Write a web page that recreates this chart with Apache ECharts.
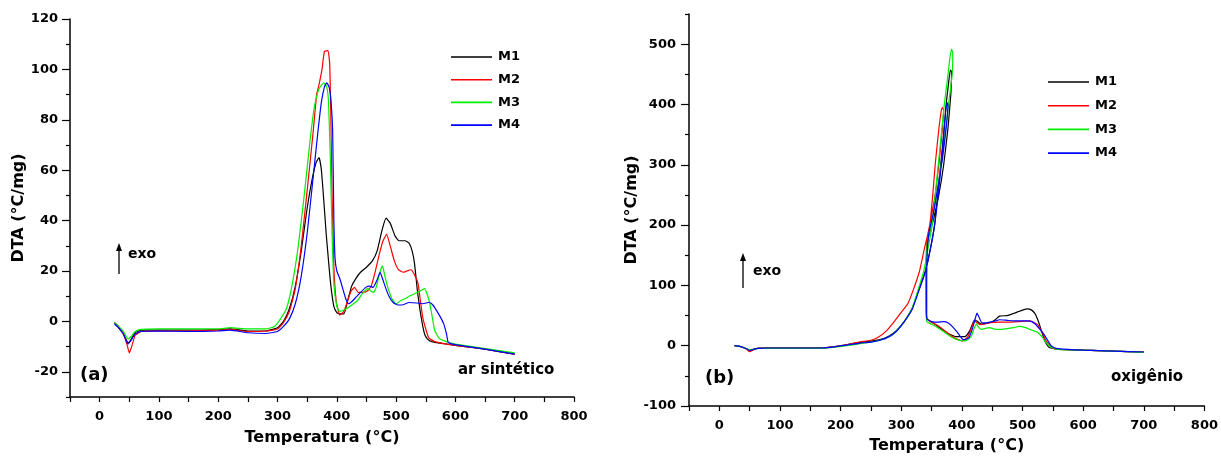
<!DOCTYPE html>
<html>
<head>
<meta charset="utf-8">
<script src="https://cdn.jsdelivr.net/npm/echarts@6/dist/echarts.min.js"></script>
<style>html,body{margin:0;padding:0;background:#fff}#c{width:1221px;height:459px}</style>
</head>
<body>
<div id="c"></div>
<script>
// ---------- data ----------
const seriesNames = ['M1', 'M2', 'M3', 'M4'];
const seriesColors = ['#000000', '#ff0000', '#00ee00', '#0000ff'];

// (a) ar sintético : [temperature °C, DTA °C/mg]
const airM1 = [[25,-0.5],[30,-2],[40,-5],[48,-8.5],[52,-7.5],[60,-4.5],[70,-3.5],[100,-3.5],[150,-3.5],[200,-3.3],[220,-3],[250,-3.8],[280,-3.8],[300,-2.5],[310,0],[320,5],[330,14],[340,28],[350,45],[358,56],[365,63],[370,65],[374,60],[378,48],[382,35],[386,24],[390,14],[395,6],[400,3.5],[405,3],[412,3],[418,8],[425,14],[432,17],[440,19.5],[450,21.5],[460,24],[468,28],[476,36],[483,41],[490,39],[498,34],[505,32],[515,32],[522,31],[527,28],[531,23],[536,12],[542,2],[548,-5],[553,-7],[560,-8],[580,-8.8],[600,-9.5],[650,-11],[700,-13]];
const airM2 = [[25,-0.5],[30,-1.5],[40,-5],[46,-9],[50,-12.5],[54,-10],[60,-5.5],[70,-4],[100,-3.8],[150,-3.8],[200,-3.5],[220,-3.2],[250,-4],[280,-3.8],[300,-3],[310,-0.5],[320,4],[330,13],[340,30],[350,52],[360,75],[366,90],[370,94],[375,100],[379,107],[385,107.5],[388,102],[390,80],[392,50],[395,22],[399,8],[405,2.5],[412,4],[418,8],[424,12],[430,13.5],[436,11.5],[442,11.5],[451,12],[458,14],[465,20],[472,27],[478,32],[484,34.5],[490,30],[497,24],[504,20.5],[512,19.5],[518,20],[525,20.5],[531,18.5],[537,15],[541,8],[545,1.5],[550,-3],[555,-6.5],[565,-8],[600,-9.5],[650,-11],[700,-13]];
const airM3 = [[25,-0.5],[30,-1.5],[40,-4],[48,-7],[53,-6],[60,-4],[70,-3.2],[100,-3],[150,-3],[200,-3],[220,-2.5],[250,-3],[280,-3],[295,-2],[305,1],[315,5],[325,15],[335,30],[345,50],[355,72],[362,85],[368,91],[373,93.5],[378,94.7],[383,93],[386,87],[389,65],[392,35],[395,15],[400,6],[405,4],[412,4.5],[420,5.6],[428,7],[435,8.3],[443,11],[452,13],[458,12],[462,11.5],[467,14],[472,19],[477,22],[481,18],[486,13.5],[493,9],[500,7],[508,8.3],[515,9],[522,10],[531,11],[540,12],[548,13],[552,11],[556,8],[560,3],[565,-3.5],[573,-6.8],[588,-8.3],[600,-9],[650,-10.8],[700,-12.5]];
const airM4 = [[25,-1],[30,-2],[40,-5],[48,-9],[53,-7.5],[60,-5],[70,-4],[100,-3.8],[150,-4],[200,-3.8],[220,-3.5],[250,-4.5],[280,-4.8],[300,-4],[310,-2],[320,1],[330,7],[340,18],[350,35],[360,57],[368,75],[374,87],[379,93],[383,94.7],[387,93],[390,88],[393,75],[395,40],[397,25],[400,20],[405,17],[410,13],[415,9],[420,7],[426,8],[432,9.5],[440,11.5],[449,13.5],[455,14],[461,13.5],[467,16],[473,19.5],[477,17],[482,13.5],[488,10],[495,7.5],[503,6.5],[510,6.5],[522,7.5],[535,7.3],[545,7],[556,7.6],[562,6.5],[568,4.4],[574,2],[580,-0.8],[585,-5],[588,-8.3],[600,-9.2],[650,-11],[700,-13]];

// (b) oxigênio
const oxyM1 = [[25,0],[35,-1.5],[45,-5],[50,-8],[56,-6],[65,-4],[80,-3.5],[120,-3.5],[170,-3.5],[190,-1.5],[210,1.5],[230,5],[250,7.5],[265,10],[280,16],[292,25],[305,40],[318,62],[328,90],[340,125],[348,160],[355,200],[360,250],[365,300],[370,350],[374,400],[378,435],[381,457],[383,455],[382,420],[377,360],[370,300],[362,250],[352,205],[345,180],[342,150],[341,90],[342,45],[347,41],[355,36],[368,26],[380,19],[391,15],[405,15],[413,25],[421,43],[426,40],[432,36],[440,37],[449,39],[455,43],[462,49],[475,50],[484,53],[492,56],[500,59],[508,61],[515,59],[520,54],[524,46],[528,35],[532,22],[536,10],[540,2],[544,-3],[552,-5],[561,-6],[600,-7.5],[650,-9],[700,-10.5]];
const oxyM2 = [[25,0],[35,-1.5],[45,-6],[50,-10],[56,-7],[65,-4],[80,-3.5],[120,-3.5],[170,-3.5],[190,-1.5],[210,1.5],[230,6],[250,9],[262,14],[276,25],[290,42],[302,58],[311,70],[319,90],[330,123],[338,160],[347,200],[352,250],[356,300],[361,350],[366,390],[368,395],[370,390],[367,350],[362,300],[356,250],[348,205],[343,180],[341,130],[341,75],[342,45],[348,40],[357,35],[365,30],[380,18],[392,11],[401,8],[410,15],[416,30],[421,41],[425,38],[430,35],[438,36],[446,38],[462,39],[478,39],[495,40],[512,41],[518,39],[525,35],[529,28],[533,21],[537,12],[541,5],[546,-1],[552,-5],[565,-6],[600,-7.5],[650,-9],[700,-10.5]];
const oxyM3 = [[25,0],[35,-1.5],[45,-5],[50,-7],[56,-6],[65,-4.5],[80,-4],[120,-4],[170,-4],[190,-2.5],[210,0],[230,3],[250,6],[265,9],[280,15],[292,24],[305,40],[318,62],[327,90],[337,123],[344,160],[351,200],[356,250],[361,300],[366,350],[371,400],[376,440],[380,475],[383,492],[385,485],[384,450],[378,400],[371,340],[363,280],[355,230],[348,195],[343,170],[341,120],[341,65],[342,40],[347,37],[357,32],[369,24],[385,13],[395,9],[405,8],[412,12],[416,17],[420,28],[424,36],[428,30],[433,27],[440,29],[446,30],[452,28],[459,27],[472,28],[485,30],[495,32],[505,30],[512,27],[518,25],[525,22],[532,15],[539,5],[544,0],[548,-3],[558,-6],[600,-7.5],[650,-9],[700,-11]];
const oxyM4 = [[25,0],[35,-1.5],[45,-5],[50,-8],[56,-6],[65,-4.5],[80,-3.8],[120,-3.8],[170,-3.8],[190,-2],[210,1],[230,4],[250,6],[265,9],[280,15],[292,24],[305,40],[318,60],[328,88],[340,123],[348,160],[355,200],[361,250],[366,300],[370,350],[374,395],[376,403],[377,398],[374,360],[368,310],[360,260],[352,215],[346,190],[343,160],[342,100],[342,45],[350,40],[360,39],[370,40],[377,38],[384,32],[391,24],[397,16],[402,10],[408,11],[412,14],[418,30],[422,45],[425,54],[428,48],[433,38],[440,38],[446,39],[455,41],[462,43],[475,42],[489,41],[500,41],[508,41],[515,40],[521,36],[528,28],[536,18],[542,8],[547,0],[552,-3],[558,-5],[600,-7.5],[650,-9],[700,-10.5]];

// ticks
const xMajorTicks = [0, 100, 200, 300, 400, 500, 600, 700, 800];
const xMinorTicks = [-50, 50, 150, 250, 350, 450, 550, 650, 750];
const yMajorTicksA = [-20, 0, 20, 40, 60, 80, 100, 120];
const yMinorTicksA = [-30, -10, 10, 30, 50, 70, 90, 110];
const yMajorTicksB = [-100, 0, 100, 200, 300, 400, 500];
const yMinorTicksB = [-50, 50, 150, 250, 350, 450, 550];

// ---------- chart ----------
const FONT = 'DejaVu Sans';
const chart = echarts.init(document.getElementById('c'), null, {renderer: 'canvas'});

function majorAxis(type, gridIndex, min, max, ticks, name, nameGap, labelMargin, tickLen) {
  const ax = {
    type: 'value', gridIndex, min, max,
    position: type === 'x' ? 'bottom' : 'left',
    name, nameLocation: 'middle', nameGap,
    nameTextStyle: {fontFamily: FONT, fontWeight: 'bold', fontSize: 16, color: '#000'},
    axisLine: {show: true, onZero: false, lineStyle: {color: '#000', width: 1.5}},
    axisTick: {show: true, inside: false, length: tickLen, customValues: ticks, lineStyle: {color: '#000', width: 1.2}},
    axisLabel: {show: true, customValues: ticks, margin: labelMargin, fontFamily: FONT, fontWeight: 'bold', fontSize: 13, color: '#000'},
    splitLine: {show: false}
  };
  if (type === 'y') ax.nameRotate = 90;
  return ax;
}
function minorAxis(type, gridIndex, min, max, ticks, tickLen) {
  return {
    type: 'value', gridIndex, min, max,
    position: type === 'x' ? 'bottom' : 'left',
    axisLine: {show: false, onZero: false},
    axisTick: {show: true, inside: false, length: tickLen, customValues: ticks, lineStyle: {color: '#000', width: 1.2}},
    axisLabel: {show: false},
    splitLine: {show: false}
  };
}

const airData = [airM1, airM2, airM3, airM4];
const oxyData = [oxyM1, oxyM2, oxyM3, oxyM4];
const series = [];
airData.forEach((d, i) => series.push({
  type: 'line', name: seriesNames[i], data: d, xAxisIndex: 0, yAxisIndex: 0,
  symbol: 'none', smooth: 0.15, lineStyle: {color: seriesColors[i], width: 1.2}, itemStyle: {color: seriesColors[i]}
}));
oxyData.forEach((d, i) => series.push({
  type: 'line', name: seriesNames[i], data: d, xAxisIndex: 2, yAxisIndex: 2,
  symbol: 'none', smooth: 0.15, lineStyle: {color: seriesColors[i], width: 1.2}, itemStyle: {color: seriesColors[i]}
}));

const legendBase = {
  orient: 'vertical', itemWidth: 41, itemHeight: 1.6, icon: 'rect', padding: 0, data: seriesNames,
  textStyle: {fontFamily: FONT, fontWeight: 'bold', fontSize: 13, lineHeight: 14, color: '#000', padding: [0, 0, 0, 1]}
};

function txt(x, y, text, size) {
  return {type: 'text', x, y, style: {text, fontFamily: FONT, fontWeight: 'bold', fontSize: size, fill: '#000', textVerticalAlign: 'middle', textAlign: 'left'}};
}
function arrow(x, yTop, yBottom) {
  return [
    {type: 'line', shape: {x1: x, y1: yBottom, x2: x, y2: yTop + 6}, style: {stroke: '#000', lineWidth: 1.3}},
    {type: 'polygon', shape: {points: [[x, yTop], [x - 3, yTop + 8], [x + 3, yTop + 8]]}, style: {fill: '#000'}}
  ];
}

chart.setOption({
  animation: false,
  backgroundColor: '#fff',
  grid: [
    {left: 70, top: 19, width: 504, height: 378},
    {left: 689, top: 14, width: 516, height: 395}
  ],
  xAxis: [
    majorAxis('x', 0, -50, 800, xMajorTicks, 'Temperatura (°C)', 33, 13, 5),
    minorAxis('x', 0, -50, 800, xMinorTicks, 5),
    majorAxis('x', 1, -50, 800, xMajorTicks, 'Temperatura (°C)', 32, 13, 5),
    minorAxis('x', 1, -50, 800, xMinorTicks, 5)
  ],
  yAxis: [
    majorAxis('y', 0, -30, 120, yMajorTicksA, 'DTA (°C/mg)', 36, 12, 8),
    minorAxis('y', 0, -30, 120, yMinorTicksA, 4),
    majorAxis('y', 1, -100, 550, yMajorTicksB, 'DTA (°C/mg)', 42, 13, 8),
    minorAxis('y', 1, -100, 550, yMinorTicksB, 4)
  ],
  legend: [
    Object.assign({}, legendBase, {left: 451, top: 50, itemGap: 8.7}),
    Object.assign({}, legendBase, {left: 1048, top: 75, itemGap: 9.7})
  ],
  graphic: [
    txt(80, 375, '(a)', 18),
    txt(458, 370, 'ar sintético', 15),
    txt(128, 254, 'exo', 14),
    ...arrow(119, 243, 274),
    txt(705, 378, '(b)', 18),
    txt(1111, 377, 'oxigênio', 15),
    txt(753, 271, 'exo', 14),
    ...arrow(743, 253, 288)
  ],
  series
});
</script>
</body>
</html>
